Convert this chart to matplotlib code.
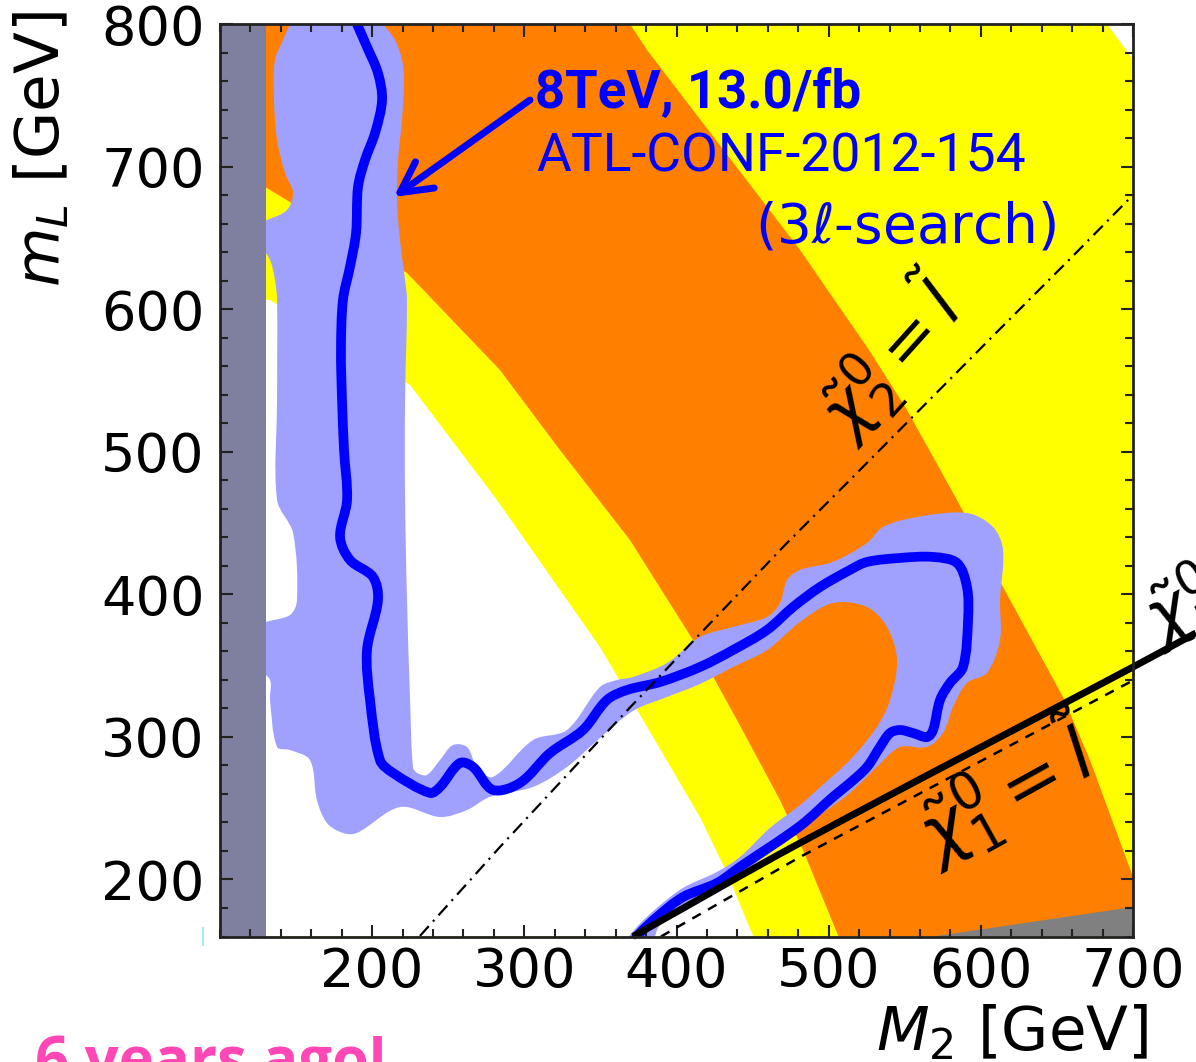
import matplotlib
matplotlib.use("Agg")
import numpy as np
import matplotlib.pyplot as plt
from matplotlib.lines import Line2D
from matplotlib.path import Path
from matplotlib.patches import PathPatch
from matplotlib.ticker import FixedLocator, MultipleLocator

plt.rcParams["lines.scale_dashes"] = False
plt.rcParams["mathtext.fontset"] = "dejavusans"
plt.rcParams["font.family"] = ["DejaVu Sans"]

# ---------------- data (M2 [GeV], mL [GeV]) ----------------
# exclusion band edges
inner_edge_x = [100, 132.9, 224.9, 282.0, 349.7, 378.0, 415.4, 433.2, 450.3, 451.0]
inner_edge_y = [610, 606.4, 546.8, 466.2, 363.0, 311.9, 243.8, 204.5, 160.4, 160]

mid_inner_edge_x = [100, 129.6, 222.9, 284.0, 323.4, 369.4, 410.8, 439.7, 468.0, 483.1, 505.5, 506.5]
mid_inner_edge_y = [688, 685.7, 625.4, 557.3, 501.2, 438.1, 368.0, 311.9, 255.7, 220.7, 162.5, 160]

mid_outer_edge_x = [369.4, 380.6, 481.2, 526.5, 551.5, 584.3, 614.6, 654.0, 671.7, 700]
mid_outer_edge_y = [800, 781.8, 641.5, 571.4, 529.3, 466.2, 405.1, 328.0, 283.8, 201.8]

outer_edge_x = [682.9, 700]
outer_edge_y = [800, 774.8]

# region with no neutralino/slepton solution
corner_x = [568.6, 700, 700]
corner_y = [160, 180.7, 160]
low_m2_limit = [100, 130]

# ATLAS 3-lepton limit: uncertainty band outline and observed contour
shade_x = [146.0, 141.4, 136.1, 135.5, 137.5, 142.7, 148.0, 144.0, 130.9, 125.0, 125.0, 132.9,
           136.1, 137.5, 137.5, 137.5, 148.0, 150.6, 146.0, 125.0, 125.0, 132.9, 132.9, 137.5,
           146.0, 159.1, 163.7, 170.3, 180.8, 190.0, 218.3, 244.6, 262.3, 277.4, 305.7, 328.0,
           349.7, 371.4, 393.8, 415.4, 437.1, 459.5, 481.2, 502.8, 525.2, 538.3, 544.9, 540.3,
           531.7, 514.0, 492.3, 481.2, 461.4, 441.7, 426.6, 404.3, 387.2, 373.4, 366.1,
           382.6, 389.2, 408.9, 428.6, 454.9, 481.2, 492.3, 514.0, 531.7, 546.9, 564.6, 575.1,
           581.7, 590.9, 604.0, 612.6, 612.6, 614.6, 608.0, 590.9, 558.0, 535.7, 525.2, 502.8,
           481.2, 472.6, 468.0, 459.5, 437.1, 415.4, 393.8, 371.4, 360.9, 349.7, 328.0, 305.7,
           279.4, 268.9, 262.3, 253.1, 244.6, 236.0, 229.5, 226.8, 224.9, 222.9, 221.6, 221.6,
           222.9, 221.6, 218.3, 216.3, 217.0, 219.6, 220.9, 219.6, 215.0, 207.1]
shade_y = [800, 788.8, 774.8, 746.7, 718.6, 695.5, 681.5, 669.5, 662.5, 661.1, 648.5, 634.5,
           620.5, 606.4, 536.3, 466.2, 443.0, 396.0, 385.5, 377.1, 349.0, 339.9, 325.9, 292.9,
           290.8, 283.8, 255.7, 239.6, 232.6, 232.6, 250.8, 243.8, 248.7, 257.9, 264.9, 278.9,
           299.2, 318.2, 328.0, 337.1, 349.0, 360.9, 380.6, 393.9, 391.1, 377.1, 353.9, 325.9,
           307.0, 283.8, 262.8, 252.2, 236.1, 215.8, 205.3, 194.1, 180.1, 166.0, 154.0,
           154.0, 168.1, 182.1, 192.6, 213.7, 234.7, 243.8, 260.7, 278.9, 292.9, 292.9, 302.7,
           321.0, 337.8, 344.8, 367.9, 396.0, 431.1, 447.2, 457.0, 454.2, 447.2, 436.0, 422.7,
           417.1, 410.0, 393.9, 384.1, 377.1, 370.1, 351.8, 342.0, 339.9, 335.0, 304.8, 297.8,
           271.9, 278.9, 292.9, 294.3, 283.8, 273.3, 274.7, 278.9, 325.9, 396.0, 466.2, 536.3,
           606.4, 620.5, 648.5, 676.6, 704.6, 732.7, 760.7, 774.8, 788.8, 800]

limit_x = [190.0, 196.6, 203.8, 206.5, 201.9, 195.3, 190.7, 189.4, 185.4, 180.8, 179.5, 180.2,
           181.5, 183.5, 178.9, 185.4, 200.5, 203.8, 196.6, 198.6, 205.1, 213.7, 238.0, 244.6,
           257.7, 266.3, 279.4, 297.1, 316.9, 338.5, 354.3, 367.5, 389.2, 415.4, 437.1, 459.5,
           476.6, 494.3, 514.0, 525.2, 546.9, 568.6, 584.3, 590.9, 591.6, 588.3, 579.7, 573.2,
           568.6, 564.6, 555.4, 546.9, 540.3, 533.7, 525.2, 514.0, 502.8, 481.2, 441.7, 426.6,
           404.3, 387.2, 376.0, 371.4]
limit_y = [800.0, 783.9, 765.6, 746.7, 723.6, 704.6, 685.7, 653.4, 629.6, 606.4, 571.4, 536.3,
           501.2, 466.2, 440.2, 424.1, 412.2, 396.0, 360.9, 325.9, 283.8, 274.7, 260.7, 264.9,
           281.7, 278.9, 262.8, 267.7, 288.7, 304.8, 325.9, 332.9, 338.5, 349.0, 360.9, 375.0,
           391.1, 405.1, 417.1, 422.7, 425.5, 426.2, 422.0, 405.1, 382.0, 349.0, 337.8, 325.9,
           304.8, 299.9, 302.7, 304.8, 302.7, 292.9, 278.9, 267.7, 257.9, 237.5, 208.8, 197.5,
           187.7, 173.7, 162.5, 156.0]

# mass-degeneracy lines
chi2_slep_x = [231.4, 284.0, 364.8, 413.5, 472.6, 515.3, 610.6, 659.9, 700]
chi2_slep_y = [160.4, 222.8, 315.4, 370.1, 436.0, 481.6, 584.0, 636.6, 680.1]

chi1_slep_x = [389.8, 481.2, 700]
chi1_slep_y = [160, 215.8, 339.6]

chi1_lsp_x = [371.4, 481.2, 700, 741.4]
chi1_lsp_y = [160, 225.6, 349, 372.9]

x_ticks = [200, 300, 400, 500, 600, 700]
y_ticks = [200, 300, 400, 500, 600, 700, 800]

ORANGE = "#ff8000"
YELLOW = "#ffff00"
LAVENDER = "#a0a0ff"
BLUE = "#0000ff"


def smooth_path(xs, ys, closed=False):
    """Cubic Bezier path through the given nodes (chord-length Catmull-Rom)."""
    p = np.column_stack([xs, ys]).astype(float)
    n = len(p)
    d = np.hypot(*np.diff(p, axis=0).T)
    d[d == 0] = 1e-9
    tang = np.zeros_like(p)
    for i in range(n):
        if i == 0:
            tang[i] = (p[1] - p[0]) / d[0]
        elif i == n - 1:
            tang[i] = (p[-1] - p[-2]) / d[-1]
        else:
            tang[i] = (p[i + 1] - p[i - 1]) / (d[i - 1] + d[i])
    verts = [p[0]]
    codes = [Path.MOVETO]
    for i in range(n - 1):
        c1 = p[i] + tang[i] * d[i] / 3
        c2 = p[i + 1] - tang[i + 1] * d[i] / 3
        verts += [c1, c2, p[i + 1]]
        codes += [Path.CURVE4] * 3
    if closed:
        verts.append(p[0])
        codes.append(Path.CLOSEPOLY)
    return Path(verts, codes)


# ---------------- figure ----------------
W, H = 1196, 1062
fig = plt.figure(figsize=(W / 100, H / 100), dpi=100)
ax = fig.add_axes([220 / W, 1 - 936.5 / H, 913 / W, 912.5 / H])
ax.set_xlim(100, 700)
ax.set_ylim(160, 800)

# colour bands, painted from the outside in
ax.fill([100, 100] + outer_edge_x + [700], [160, 800] + outer_edge_y + [160],
        color=YELLOW, lw=0, zorder=0.5)
ax.fill([100, 100] + mid_outer_edge_x + [700], [160, 800] + mid_outer_edge_y + [160],
        color=ORANGE, lw=0, zorder=0.6)
ax.fill([100] + mid_inner_edge_x, [160] + mid_inner_edge_y,
        color=YELLOW, lw=0, zorder=0.7)
ax.fill([100] + inner_edge_x, [160] + inner_edge_y,
        color="white", lw=0, zorder=0.8)
ax.fill(corner_x, corner_y, color="#808080", lw=0, zorder=0.9)

# ATLAS limit band and contour
ax.add_patch(PathPatch(smooth_path(shade_x, shade_y, closed=True),
                       facecolor=LAVENDER, lw=0, zorder=1.0))
ax.axvspan(low_m2_limit[0], low_m2_limit[1], color="#7f7f9f", lw=0, zorder=1.1)
ax.add_patch(PathPatch(smooth_path(limit_x, limit_y), facecolor="none",
                       edgecolor=BLUE, lw=7, joinstyle="round", capstyle="butt",
                       zorder=1.5))

# degeneracy lines
l1, = ax.plot(chi2_slep_x, chi2_slep_y, color="black", lw=1.6, zorder=2.0)
l1.set_dashes([9.5, 4.5, 1.5, 4.5])
l2, = ax.plot(chi1_slep_x, chi1_slep_y, color="black", lw=1.8, zorder=2.0)
l2.set_dashes([7, 6])
ax.add_patch(PathPatch(smooth_path(chi1_lsp_x, chi1_lsp_y), facecolor="none",
                       edgecolor="black", lw=5, capstyle="butt", clip_on=False,
                       zorder=2.1))

# annotations
ax.annotate("", xy=(214.3, 678.7), xytext=(303.7, 746.7),
            arrowprops=dict(arrowstyle="->,head_length=1.1,head_width=0.58",
                            color=BLUE, lw=5, mutation_scale=20,
                            shrinkA=0, shrinkB=0), zorder=3)
ax.text(307.0, 741.1, "8TeV, 13.0/fb", family=["Roboto", "DejaVu Sans"],
        fontweight="bold", fontsize=38, color=BLUE, va="baseline", ha="left", zorder=3)
ax.text(307.6, 696.2, "ATL-CONF-2012-154", family=["Roboto", "DejaVu Sans"],
        fontsize=38.5, color=BLUE, va="baseline", ha="left", zorder=3)
ax.text(451.6, 646.4, r"(3$\ell$-search)", fontsize=39.5, color=BLUE,
        va="baseline", ha="left", zorder=3)

ax.text(540.3, 566.4, r"$\tilde{\chi}_2^0=\tilde{l}$", fontsize=48, rotation=48,
        ha="center", va="center", rotation_mode="anchor", zorder=3)
ax.text(617.0, 262.0, r"$\tilde{\chi}_1^0=\tilde{l}$", fontsize=52, rotation=29,
        ha="center", va="center", rotation_mode="anchor", zorder=3)
ax.text(716.4, 366.0, r"$\tilde{\chi}_1^0=\tilde{l}$", fontsize=48, rotation=28,
        ha="left", va="baseline", rotation_mode="anchor", clip_on=False, zorder=3)

# axes styling
ax.xaxis.set_major_locator(FixedLocator(x_ticks))
ax.yaxis.set_major_locator(FixedLocator(y_ticks))
ax.xaxis.set_minor_locator(MultipleLocator(20))
ax.yaxis.set_minor_locator(MultipleLocator(20))
ax.tick_params(which="both", direction="in", top=True, right=True,
               width=1.5, color="#222222", labelsize=39)
ax.tick_params(which="major", length=9)
ax.tick_params(which="minor", length=5.5)
ax.tick_params(axis="x", pad=7)
ax.tick_params(axis="y", pad=11)
for s in ax.spines.values():
    s.set_linewidth(2)
    s.set_color("#222222")
    s.set_zorder(4)

fig.text(876 / W, 1 - 1050 / H, r"$M_2$ [GeV]", fontsize=44, ha="left", va="baseline")
fig.text(72 / W, 1 - 287 / H, r"$m_L$ [GeV]", fontsize=44, rotation=90,
         ha="right", va="bottom")

fig.text(35 / W, 1 - 1080 / H, "6 years ago!", family=["Open Sans", "DejaVu Sans"],
         fontweight="bold", fontsize=43, color="#ff47b5", ha="left", va="baseline")
fig.add_artist(Line2D([203 / W, 203 / W], [1 - 928 / H, 1 - 945 / H],
                      color="#aee8f8", lw=1.5))

fig.savefig("out.png", dpi=100)
